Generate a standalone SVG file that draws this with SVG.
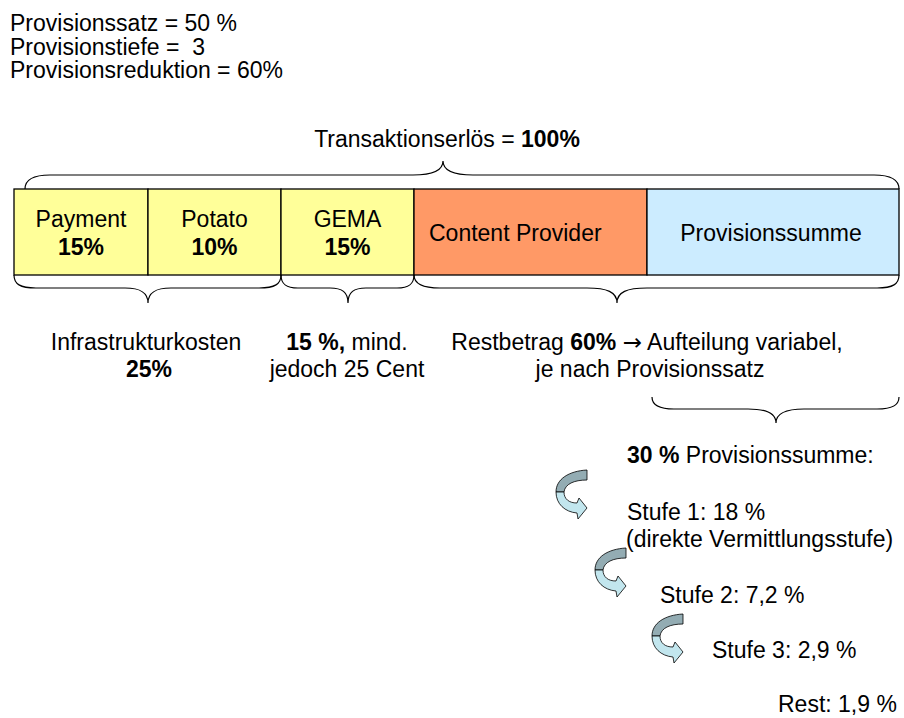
<svg xmlns="http://www.w3.org/2000/svg" xmlns:xlink="http://www.w3.org/1999/xlink" width="904" height="718" viewBox="0 0 904 718">
<style>
text { font-family: "Liberation Sans", Arial, sans-serif; font-size: 23px; fill: #000; }
.b { font-weight: bold; }
.m { text-anchor: middle; }
.arr { font-family: "DejaVu Sans", sans-serif; }
.box { stroke: #000; stroke-width: 1.3; }
.yel { fill: #FFFF99; }
.org { fill: #FF9966; }
.blu { fill: #CCECFF; }
.brace { fill: none; stroke: #000; stroke-width: 1.2; }
.dark { fill: #93ACB3; stroke: #000; stroke-width: 0.8; stroke-linejoin: round; }
.light { fill: #C2E6EE; stroke: #000; stroke-width: 0.8; stroke-linejoin: round; }
</style>
<defs>
<g id="curvedArrow">
<path class="dark" d="M31,0 L31,10 C18,10 9,14 8,22 L0,22 C0,9 13,1 31,0 Z"/>
<path class="light" d="M0,22 C0,34 9,42 21,43 L22,49 L31,38 L23,28 L21,33 C13,33 8,29 8,22 Z"/>
</g>
</defs>
<rect width="904" height="718" fill="#fff"/>

<g id="params">
<text x="10" y="31">Provisionssatz = 50 %</text>
<text x="10" y="54.5" xml:space="preserve">Provisionstiefe =  3</text>
<text x="10" y="78">Provisionsreduktion = 60%</text>
</g>

<g id="title">
<text class="m" x="447" y="147">Transaktionserlös = <tspan class="b">100%</tspan></text>
</g>

<g id="payment">
<rect class="box yel" x="14" y="189" width="134" height="86"/>
<text class="m" x="81" y="227">Payment</text>
<text class="m b" x="81" y="255">15%</text>
</g>
<g id="potato">
<rect class="box yel" x="148" y="189" width="133" height="86"/>
<text class="m" x="214.5" y="227">Potato</text>
<text class="m b" x="214.5" y="255">10%</text>
</g>
<g id="gema">
<rect class="box yel" x="281" y="189" width="133" height="86"/>
<text class="m" x="347.5" y="227">GEMA</text>
<text class="m b" x="347.5" y="255">15%</text>
</g>
<g id="content-provider">
<rect class="box org" x="414" y="189" width="233" height="86"/>
<text x="429" y="241">Content Provider</text>
</g>
<g id="provisionssumme">
<rect class="box blu" x="647" y="189" width="252" height="86"/>
<text class="m" x="771" y="241">Provisionssumme</text>
</g>

<g id="braces">
<path class="brace" d="M25,189 C25,180 33,175 50,175 L413,175 C430,175 443,172 443,161 C443,172 456,175 473,175 L874,175 C891,175 899,180 899,189"/>
<path class="brace" d="M14,275 C14,284 20,288 36,288 L125,288 C140,288 148,292 148,303 C148,292 156,288 171,288 L259,288 C275,288 281,284 281,275"/>
<path class="brace" d="M281,275 C281,284 286,288 298,288 L330,288 C342,288 348,292 348,303 C348,292 354,288 366,288 L397,288 C409,288 414,284 414,275"/>
<path class="brace" d="M414,275 C414,284 422,288 440,288 L587,288 C607,288 617,292 617,303 C617,292 627,288 647,288 L877,288 C893,288 899,284 899,275"/>
<path class="brace" d="M652,397 C652,405 659,409 674,409 L748,409 C766,409 776,413 776,423 C776,413 786,409 804,409 L877,409 C893,409 899,405 899,397"/>
</g>

<g id="infrastruktur">
<text class="m" x="146" y="350">Infrastrukturkosten</text>
<text class="m b" x="149" y="377">25%</text>
</g>
<g id="gema-note">
<text class="m" x="347" y="350"><tspan class="b">15 %,</tspan> mind.</text>
<text class="m" x="347" y="377">jedoch 25 Cent</text>
</g>
<g id="restbetrag">
<text class="m" x="647" y="350">Restbetrag <tspan class="b">60%</tspan> <tspan class="arr">→</tspan> Aufteilung variabel,</text>
<text class="m" x="650" y="377">je nach Provisionssatz</text>
</g>

<g id="stufen">
<text x="627" y="463"><tspan class="b">30 %</tspan> Provisionssumme:</text>
<text x="627" y="520">Stufe 1: 18 %</text>
<text x="626" y="547">(direkte Vermittlungsstufe)</text>
<text x="660" y="603">Stufe 2: 7,2 %</text>
<text x="712" y="658">Stufe 3: 2,9 %</text>
<text x="778" y="712">Rest: 1,9 %</text>
</g>

<g id="connectors">
<use xlink:href="#curvedArrow" x="556" y="470"/>
<use xlink:href="#curvedArrow" x="595" y="548"/>
<use xlink:href="#curvedArrow" x="652" y="614"/>
</g>
</svg>
